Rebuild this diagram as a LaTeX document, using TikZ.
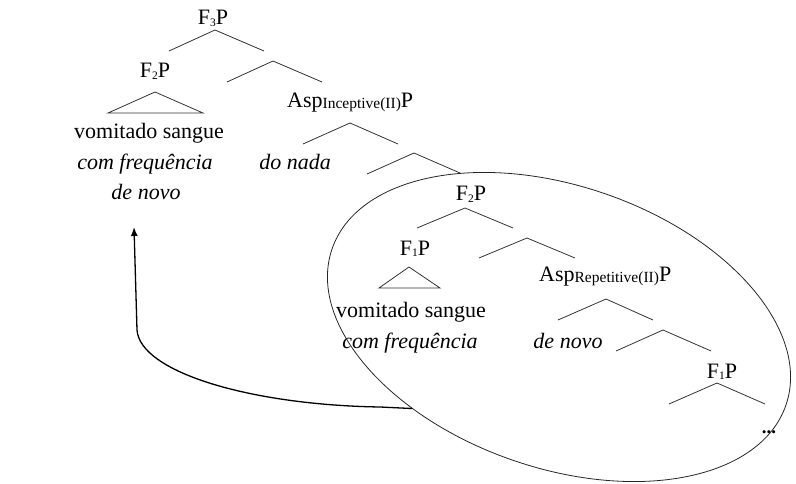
\documentclass[tikz,border=0pt]{standalone}
\usepackage{fontspec}
\setmainfont{Liberation Serif}
\usetikzlibrary{shapes.geometric,arrows.meta}

% subscripts: small digits and smaller words, both sitting a little low
\newcommand\numsub[1]{\raisebox{-1.5pt}{\fontsize{11.5}{12}\selectfont #1}}
\newcommand\wordsub[1]{\raisebox{-1pt}{\fontsize{15.5}{16}\selectfont #1}}

\begin{document}
\begin{tikzpicture}[x=1pt,y=-1pt,
  lbl/.style={anchor=base,inner sep=0pt,font=\fontsize{22}{26}\selectfont},
  lblw/.style={lbl,anchor=base west},
  phrase/.style={lbl,font=\fontsize{22}{26}\selectfont\itshape},
  branch/.style={line width=0.8pt,draw=black!80,line join=miter},
  domainring/.style={draw=black!85,line width=0.8pt,ellipse,inner sep=0pt},
  movement/.style={line width=1.3pt,draw=black,-{Latex[length=9pt,width=7pt]}}]
\useasboundingbox (0,0) rectangle (796,484);

% ---------- upper part of the tree ----------
\node[lbl] (f3p) at (213,25) {F\numsub{3}P};
\coordinate (a1) at (215,30);
\draw[branch] (169,51) -- (a1) -- (264,51);

\node[lbl] (f2pa) at (155,78) {F\numsub{2}P};
\coordinate (t1) at (155,92);
\draw[branch] (t1) -- (203,113) -- (108,113) -- cycle;
\node[lbl] (vs1) at (149,139) {vomitado sangue};
\node[phrase] (cf1) at (145,170) {com frequência};
\node[phrase] (dn1) at (146,200) {de novo};

\coordinate (a2) at (273,61);
\draw[branch] (227,82) -- (a2) -- (322,82);
\node[lblw] (aspinc) at (287,108) {Asp\wordsub{Inceptive(II)}P};

\coordinate (a3) at (350,123);
\draw[branch] (303,144) -- (a3) -- (398,144);
\node[phrase] (dnada) at (295,170) {do nada};

\coordinate (a4) at (414,153);
\draw[branch] (367,174) -- (a4) -- (460,173);

% ---------- lower part of the tree ----------
\node[lbl] (f2pb) at (471,201) {F\numsub{2}P};
\coordinate (a5) at (465,208);
\draw[branch] (417,228) -- (a5) -- (513,228);

\node[lbl] (f1pa) at (415,255) {F\numsub{1}P};
\coordinate (t2) at (409,267);
\draw[branch] (t2) -- (440,288) -- (379,288) -- cycle;
\node[lbl] (vs2) at (411,317) {vomitado sangue};
\node[phrase] (cf2) at (410,348) {com frequência};

\coordinate (a6) at (527,238);
\draw[branch] (479,258) -- (a6) -- (575,258);
\node[lblw] (asprep) at (539,281) {Asp\wordsub{Repetitive(II)}P};

\coordinate (a7) at (606,299);
\draw[branch] (558,320) -- (a7) -- (653,320);
\node[phrase] (dn2) at (568,348) {de novo};

\coordinate (a8) at (663,330);
\draw[branch] (616,351) -- (a8) -- (711,351);

\node[lbl] (f1pb) at (722,378) {F\numsub{1}P};
\coordinate (a9) at (717,383);
\draw[branch] (669,404) -- (a9) -- (765,404);
\node[lbl,font=\fontsize{19}{20}\selectfont\bfseries] (dots) at (769,433) {...};

% ---------- the moved constituent and its movement ----------
\node[domainring,rotate=-19,minimum width=480pt,minimum height=282pt] (domain) at (559,327) {};
\coordinate (landing) at (134,227);
\draw[movement] (domain.228) -- (380,407)
  .. controls (250,405) and (140,372) .. (137,330) -- (landing);
\end{tikzpicture}
\end{document}
